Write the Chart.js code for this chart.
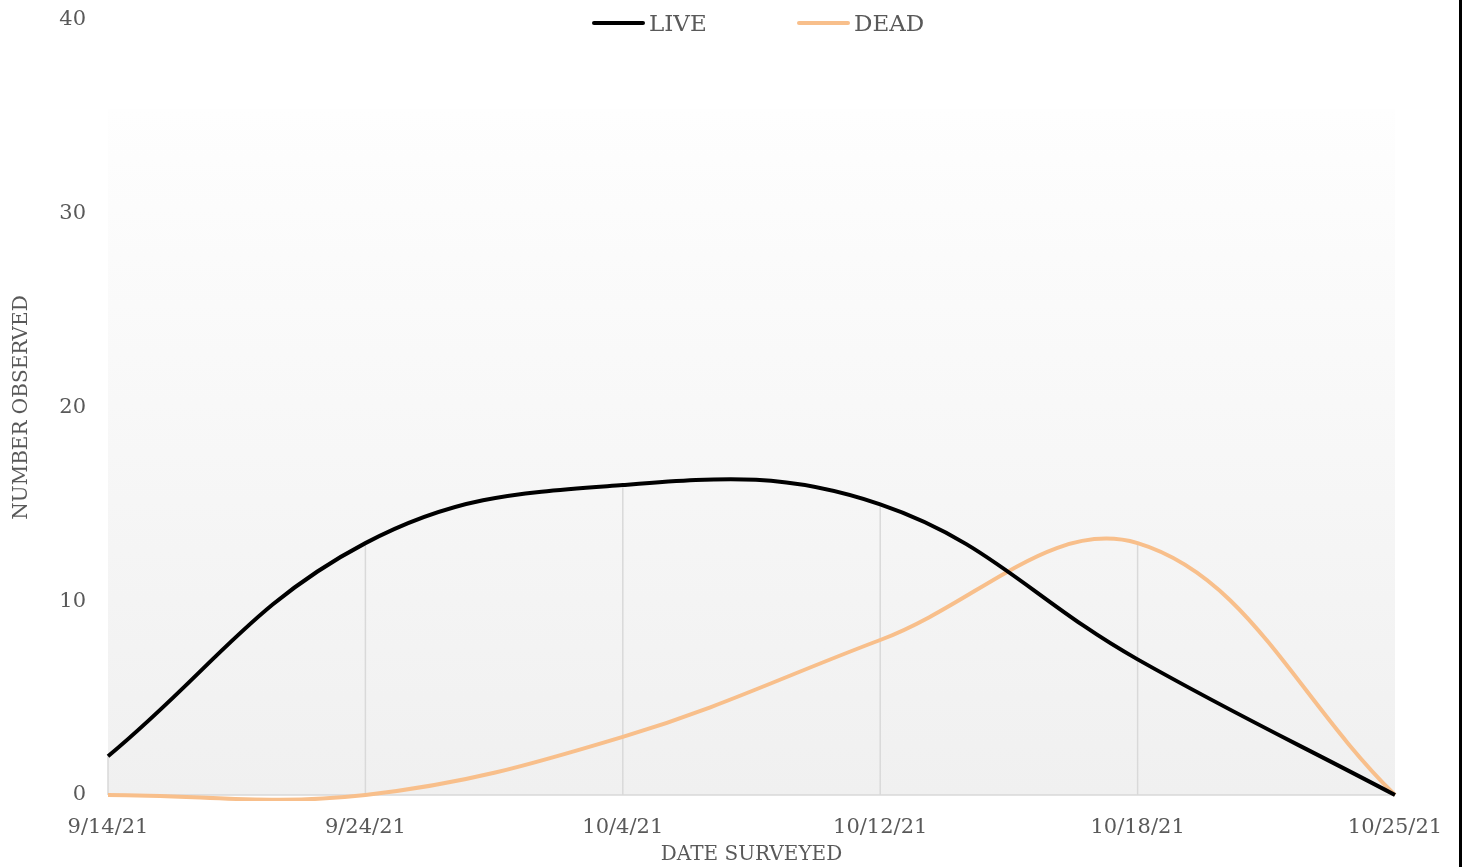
<!DOCTYPE html>
<html>
<head>
<meta charset="utf-8">
<script src="https://cdn.jsdelivr.net/npm/chart.js@4.4.1/dist/chart.umd.min.js"></script>
<style>
  html, body { margin: 0; padding: 0; background: #fff; }
  #wrap { position: relative; width: 1463px; height: 867px; }
  #wrap::after { content: ''; position: absolute; left: 1459px; top: 0; width: 3px; height: 867px; background: #000; }
  #legend { position: absolute; top: 10px; left: 0; width: 100%; height: 30px; font-family: 'DejaVu Serif', serif; font-size: 23px; color: #595959; }
  .item { position: absolute; display: flex; align-items: center; }
  .swatch { width: 53px; height: 4px; border-radius: 2px; margin-right: 4px; }
</style>
</head>
<body>
<div id="wrap">
  <canvas id="chart" width="1463" height="867"></canvas>
  <div id="legend"></div>
</div>
<script>
const dates = ['9/14/21', '9/24/21', '10/4/21', '10/12/21', '10/18/21', '10/25/21'];
const live = [2, 13, 16, 15, 7, 0];
const dead = [0, 0, 3, 8, 13, 0];
const yTicks = [0, 10, 20, 30, 40];

const liveColor = '#000000';
const deadColor = '#f8bf8b';
const textColor = '#595959';
const font = "'DejaVu Serif', serif";

// plot area background (gradient panel) and drop lines
const panel = {
  id: 'panel',
  beforeDatasetsDraw(chart) {
    const { ctx, chartArea, scales } = chart;
    const top = scales.y.getPixelForValue(35.4);
    const g = ctx.createLinearGradient(0, top, 0, chartArea.bottom);
    g.addColorStop(0, '#fefefe');
    g.addColorStop(1, '#f0f0f0');
    ctx.save();
    ctx.fillStyle = g;
    ctx.fillRect(chartArea.left, top, chartArea.right - chartArea.left, chartArea.bottom - top);
    ctx.strokeStyle = '#d9d9d9';
    ctx.lineWidth = 1.5;
    // drop lines from highest point
    dates.forEach((d, i) => {
      const hi = Math.max(live[i], dead[i]);
      if (hi <= 0) return;
      const x = scales.x.getPixelForValue(i);
      ctx.beginPath();
      ctx.moveTo(x, scales.y.getPixelForValue(hi));
      ctx.lineTo(x, scales.y.getPixelForValue(0));
      ctx.stroke();
    });
    // baseline
    ctx.beginPath();
    ctx.moveTo(chartArea.left, chartArea.bottom);
    ctx.lineTo(chartArea.right, chartArea.bottom);
    ctx.stroke();
    ctx.restore();
  }
};

const chart = new Chart(document.getElementById('chart'), {
  type: 'line',
  data: {
    labels: dates,
    datasets: [
      { label: 'LIVE', data: live, borderColor: liveColor, backgroundColor: liveColor, borderWidth: 4, pointRadius: 0, tension: 0.4, capBezierPoints: false, clip: 6 },
      { label: 'DEAD', data: dead, borderColor: deadColor, backgroundColor: deadColor, borderWidth: 4, pointRadius: 0, tension: 0.38, capBezierPoints: false, clip: 6 }
    ]
  },
  options: {
    responsive: false,
    animation: false,
    layout: { padding: { left: 0, right: 68, top: 0, bottom: 0 } },
    plugins: {
      legend: { display: false },
      tooltip: { enabled: false }
    },
    scales: {
      x: {
        offset: false,
        grid: { display: false },
        border: { display: false },
        ticks: { color: textColor, font: { family: font, size: 21 }, padding: 12, maxRotation: 0, autoSkip: false },
        title: { display: true, text: 'DATE SURVEYED', color: textColor, font: { family: font, size: 20 }, padding: { top: 0, bottom: 0 } },
        afterFit(scale) { scale.height = 72; }
      },
      y: {
        min: 0,
        max: 40,
        afterBuildTicks(scale) { scale.ticks = yTicks.map(v => ({ value: v })); },
        grid: { display: false },
        border: { display: false },
        ticks: { color: textColor, font: { family: font, size: 21 }, padding: 14 },
        title: { display: true, text: 'NUMBER OBSERVED', color: textColor, font: { family: font, size: 20 }, padding: { top: 10, bottom: 8 } },
        afterFit(scale) { scale.width = 108; scale.paddingTop = 20; }
      }
    }
  },
  plugins: [panel]
});

// legend built from the datasets
const legend = document.getElementById('legend');
const legendX = [592, 797];
chart.data.datasets.forEach((ds, i) => {
  const item = document.createElement('div');
  item.className = 'item';
  item.style.left = legendX[i] + 'px';
  item.innerHTML = '<span class="swatch" style="background:' + ds.borderColor + '"></span><span>' + ds.label + '</span>';
  legend.appendChild(item);
});
</script>
</body>
</html>
